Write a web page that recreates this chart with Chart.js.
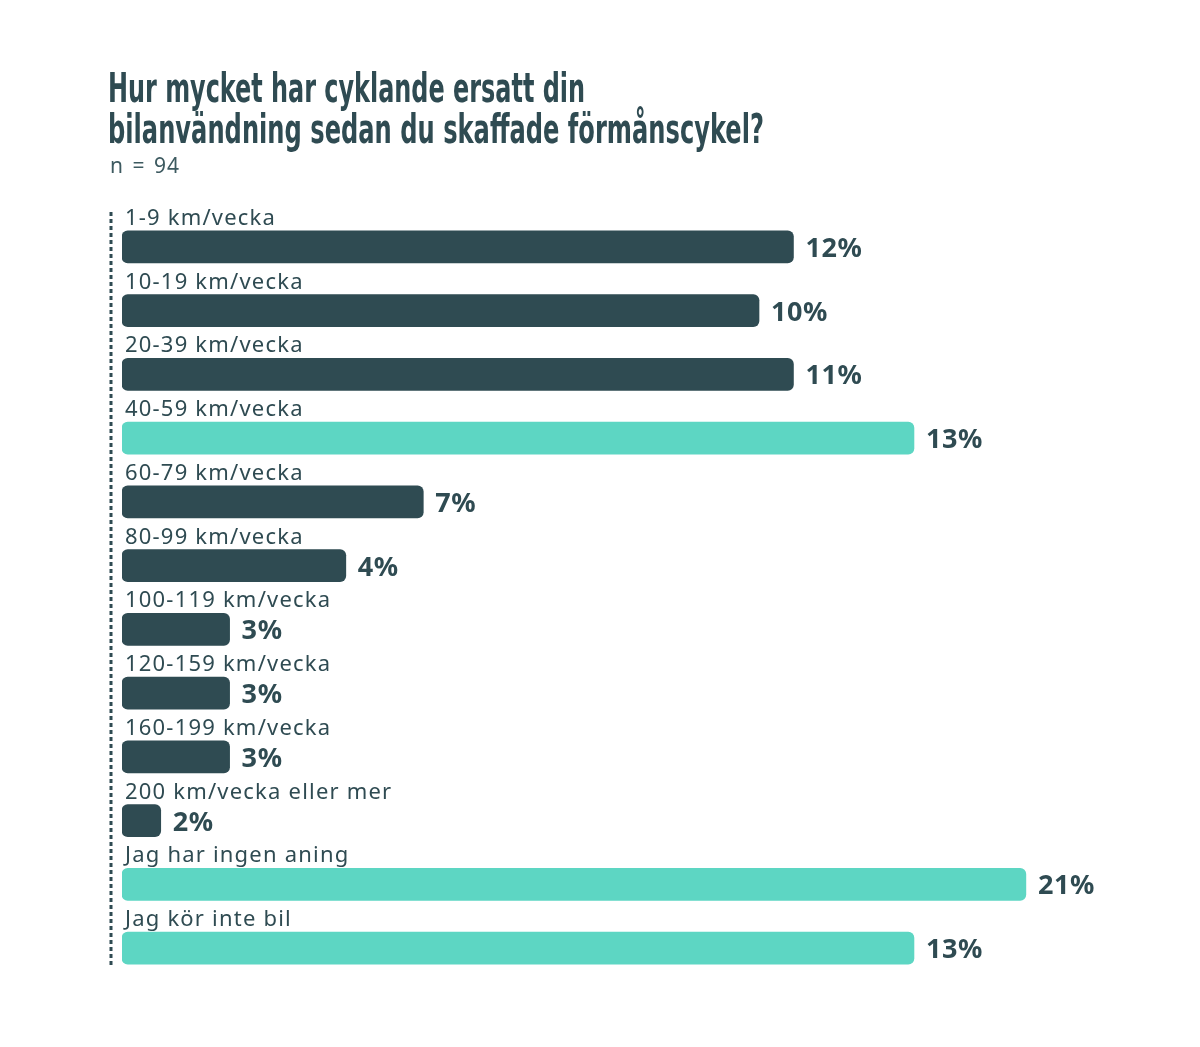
<!DOCTYPE html>
<html lang="sv">
<head>
<meta charset="utf-8">
<title>Hur mycket har cyklande ersatt din bilanvändning</title>
<script src="https://cdn.jsdelivr.net/npm/chart.js@4/dist/chart.umd.min.js"></script>
<style>
  html, body { margin: 0; padding: 0; background: #ffffff; }
  #wrap { position: relative; width: 1200px; height: 1047px; }
  #chart { position: absolute; left: 0; top: 0; }
  .title-line {
    position: absolute; left: 108px; margin: 0;
    font-family: "DejaVu Sans Condensed", "DejaVu Sans", sans-serif;
    font-weight: bold; font-size: 40px; line-height: 40px;
    color: #2f4b52; white-space: nowrap; transform-origin: 0 0;
  }
  #subtitle {
    position: absolute; left: 110px; top: 155px; margin: 0;
    font-family: "Noto Sans", sans-serif; font-size: 21px; line-height: 21px;
    letter-spacing: 1px; word-spacing: 2px;
    color: #3d5a60; white-space: nowrap;
  }
</style>
</head>
<body>
<div id="wrap">
  <canvas id="chart"></canvas>
  <div class="title-line" id="t1" style="top:68px">Hur mycket har cyklande ersatt din</div>
  <div class="title-line" id="t2" style="top:109px">bilanvändning sedan du skaffade förmånscykel?</div>
  <div id="subtitle">n = 94</div>
</div>
<script>
const categories = [
    '1-9 km/vecka',
    '10-19 km/vecka',
    '20-39 km/vecka',
    '40-59 km/vecka',
    '60-79 km/vecka',
    '80-99 km/vecka',
    '100-119 km/vecka',
    '120-159 km/vecka',
    '160-199 km/vecka',
    '200 km/vecka eller mer',
    'Jag har ingen aning',
    'Jag kör inte bil'
];

// printed shares
const shareLabels = ['12%', '10%', '11%', '13%', '7%', '4%', '3%', '3%', '3%', '2%', '21%', '13%'];

// bar lengths as drawn in the original (not to scale with the shares)
const barLengths = [15.6, 14.8, 15.6, 18.4, 7.0, 5.2, 2.5, 2.5, 2.5, 0.9, 21, 18.4];

const highlighted = ['40-59 km/vecka', 'Jag har ingen aning', 'Jag kör inte bil'];

const DARK = '#2f4b52';
const TEAL = '#5dd6c3';

// fit the condensed title lines to the original widths
function fitLine(id, target) {
    const el = document.getElementById(id);
    const w = el.getBoundingClientRect().width;
    if (w > 0) el.style.transform = 'scaleX(' + (target / w) + ')';
}
fitLine('t1', 477);
fitLine('t2', 656);

const dottedAxis = {
    id: 'dottedAxis',
    beforeDatasetsDraw(chart) {
        const { ctx, chartArea } = chart;
        ctx.save();
        ctx.strokeStyle = DARK;
        ctx.lineWidth = 3;
        ctx.setLineDash([4, 3]);
        ctx.beginPath();
        ctx.moveTo(chartArea.left - 11, chartArea.top - 3);
        ctx.lineTo(chartArea.left - 11, chartArea.bottom - 12);
        ctx.stroke();
        ctx.restore();
    }
};

const barText = {
    id: 'barText',
    afterDatasetsDraw(chart) {
        const { ctx } = chart;
        const meta = chart.getDatasetMeta(0);
        ctx.save();
        ctx.fillStyle = DARK;
        ctx.textBaseline = 'alphabetic';
        ctx.textAlign = 'left';
        meta.data.forEach((bar, i) => {
            // category name above the bar
            ctx.font = '22px "Noto Sans", sans-serif';
            ctx.letterSpacing = '1.2px';
            ctx.fillText(categories[i], bar.base + 3, bar.y - 22);
            // share after the bar
            ctx.font = 'bold 27px "Noto Sans", sans-serif';
            ctx.letterSpacing = '0.6px';
            ctx.fillText(shareLabels[i], bar.x + 12, bar.y + 10);
        });
        ctx.restore();
    }
};

new Chart(document.getElementById('chart'), {
    type: 'bar',
    data: {
        labels: categories,
        datasets: [{
            data: barLengths,
            backgroundColor: categories.map(c => highlighted.includes(c) ? TEAL : DARK),
            borderRadius: 6,
            borderSkipped: false,
            barThickness: 32
        }]
    },
    options: {
        indexAxis: 'y',
        responsive: true,
        maintainAspectRatio: false,
        animation: false,
        layout: {
            padding: { left: 122, right: 45, top: 215, bottom: 67 }
        },
        scales: {
            x: { display: false, min: 0, max: 24 },
            y: { display: false }
        },
        plugins: {
            legend: { display: false },
            tooltip: { enabled: false }
        }
    },
    plugins: [dottedAxis, barText]
});
</script>
</body>
</html>
